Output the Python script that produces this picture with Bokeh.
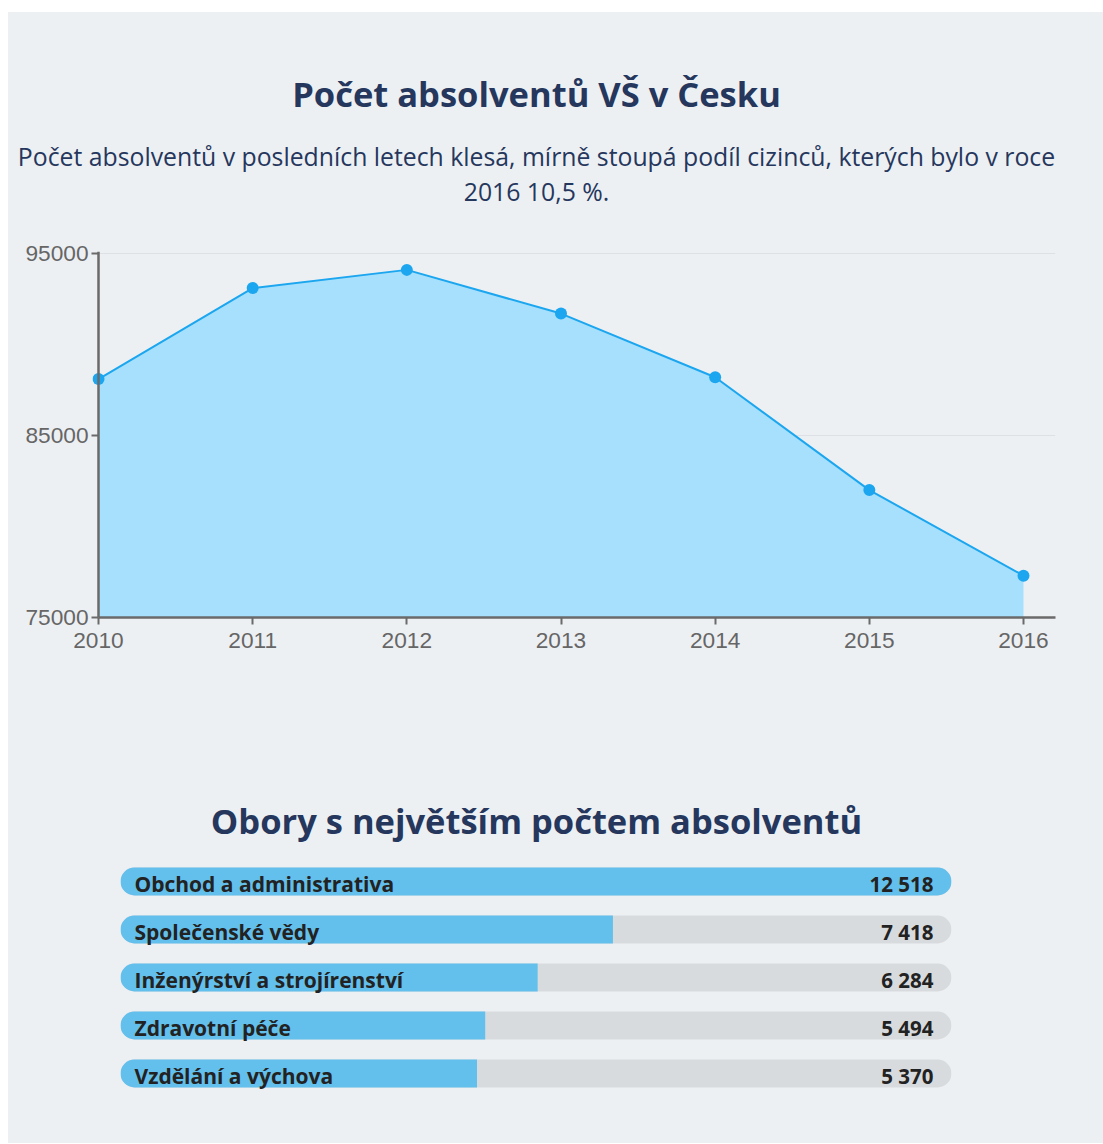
from bokeh.plotting import figure
from bokeh.models import Range1d, FixedTicker, NumeralTickFormatter, Label, ColumnDataSource, FactorRange, Spacer, Span
from bokeh.layouts import column, row
from bokeh.embed import file_html
from bokeh.resources import INLINE
from bokeh.core.properties import value

# ---------------- data ----------------
years = [2010, 2011, 2012, 2013, 2014, 2015, 2016]
graduates = [88100, 93100, 94100, 91700, 88200, 82000, 77300]
y_ticks = [75000, 85000, 95000]

fields = ["Obchod a administrativa", "Společenské vědy", "Inženýrství a strojírenství",
          "Zdravotní péče", "Vzdělání a výchova"]
field_counts = [12518, 7418, 6284, 5494, 5370]
field_labels = ["12 518", "7 418", "6 284", "5 494", "5 370"]

title1 = "Počet absolventů VŠ v Česku"
subtitle_lines = ["Počet absolventů v posledních letech klesá, mírně stoupá podíl cizinců, kterých bylo v roce",
                  "2016 10,5 %."]
title2 = "Obory s největším počtem absolventů"

# ---------------- style ----------------
BG = "#edf0f3"
NAVY = "#26375d"
AREA = "#a6e0fc"
LINE = "#1ca6ef"
BAR = "#63bfeb"
TRACK = "#d8dbde"
AXIS = "#6a6a6a"
FONT = "Open Sans"
W = 1095


def text_fig(h):
    f = figure(width=W, height=h, x_range=Range1d(0, W), y_range=Range1d(h, 0),
               output_backend="svg", toolbar_location=None, min_border=0,
               x_axis_location=None, y_axis_location=None, frame_align=False)
    f.grid.visible = False
    f.outline_line_color = None
    f.background_fill_color = None
    f.border_fill_color = BG
    return f


# ---------------- header 1 ----------------
h1 = text_fig(218)
h1.add_layout(Label(x=528, y=81, text=title1, text_align="center", text_baseline="middle",
                    text_font=FONT, text_font_style="bold", text_font_size="34.5px",
                    text_color=NAVY))
h1.add_layout(Label(x=528, y=143, text=subtitle_lines[0], text_align="center", text_baseline="middle",
                    text_font=FONT, text_font_size="24.8px", text_color=NAVY))
h1.add_layout(Label(x=528, y=178, text=subtitle_lines[1], text_align="center", text_baseline="middle",
                    text_font=FONT, text_font_size="24.8px", text_color=NAVY))

# ---------------- line chart ----------------
px_per_year = (1023 - 98) / 6.0
lead_px = 6
x_start = years[0] - lead_px / px_per_year
x_end = years[0] + (1055 - 98) / px_per_year
top_px = 2
y_per_px = (y_ticks[-1] - y_ticks[0]) / 364.0
y_end = y_ticks[-1] + top_px * y_per_px

p = figure(width=W, height=470, x_range=Range1d(x_start, x_end), y_range=Range1d(y_ticks[0], y_end),
           output_backend="svg", toolbar_location=None, frame_align=False,
           min_border_left=90 - lead_px, min_border_right=48, min_border_top=23 - top_px, min_border_bottom=83)
p.background_fill_color = None
p.border_fill_color = BG
p.outline_line_color = None

p.ygrid.ticker = FixedTicker(ticks=y_ticks)
p.ygrid.grid_line_color = "#dde1e5"
p.ygrid.grid_line_width = 1
p.ygrid.bounds = (years[0], x_end)
p.xgrid.visible = False

p.varea(x=years, y1=y_ticks[0], y2=graduates, fill_color=AREA)
p.line(x=years, y=graduates, line_color=LINE, line_width=2)
p.add_layout(Span(location=years[0], dimension="height", line_color=AXIS, line_width=2.5))
p.scatter(x=years, y=graduates, size=12, fill_color=LINE, line_color=None)

p.xaxis.ticker = FixedTicker(ticks=years)
p.xaxis.bounds = (years[0], x_end)
p.yaxis.ticker = FixedTicker(ticks=y_ticks)
p.yaxis.formatter = NumeralTickFormatter(format="0")
for ax in (p.xaxis, p.yaxis):
    ax.axis_line_color = AXIS
    ax.axis_line_width = 2.5
    ax.major_tick_line_color = AXIS
    ax.major_tick_line_width = 2
    ax.major_tick_out = 7
    ax.major_tick_in = 0
    ax.minor_tick_line_color = None
    ax.major_label_text_font = "Liberation Sans"
    ax.major_label_text_font_size = "22.7px"
    ax.major_label_text_color = "#666666"
p.yaxis.axis_line_color = None
p.yaxis.major_tick_out = 1
p.yaxis.major_tick_in = lead_px
p.xaxis.major_label_standoff = 8
p.yaxis.major_label_standoff = 3

# ---------------- header 2 ----------------
h2 = text_fig(157)
h2.add_layout(Label(x=528, y=120, text=title2, text_align="center", text_baseline="middle",
                    text_font=FONT, text_font_style="bold", text_font_size="34.5px",
                    text_color=NAVY))

# ---------------- bar chart ----------------
max_count = max(field_counts)
src = ColumnDataSource(dict(field=fields, count=field_counts, label=field_labels,
                            total=[max_count] * len(fields)))

b = figure(width=W, height=286, x_range=Range1d(0, max_count), y_range=FactorRange(factors=list(reversed(fields))),
           output_backend="svg", toolbar_location=None, frame_align=False,
           min_border_left=112, min_border_right=152, min_border_top=0, min_border_bottom=46,
           x_axis_location=None, y_axis_location=None)
b.background_fill_color = None
b.border_fill_color = BG
b.outline_line_color = None
b.grid.visible = False

b.hbar(y="field", left=0, right="total", height=0.58, source=src,
       fill_color=TRACK, line_color=None, border_radius=14)
for f, c in zip(fields, field_counts):
    r = 14 if c == max_count else 0
    b.hbar(y=[f], left=[0], right=[c], height=0.58, fill_color=BAR, line_color=None,
           border_radius=(14, r, r, 14))

b.text(x=0, y="field", text="field", source=src, x_offset=14, y_offset=2,
       text_align="left", text_baseline="middle", text_font=value(FONT), text_font_style="bold",
       text_font_size="21px", text_color="#222222")
b.text(x="total", y="field", text="label", source=src, x_offset=-18, y_offset=2,
       text_align="right", text_baseline="middle", text_font=value(FONT), text_font_style="bold",
       text_font_size="20.5px", text_color="#222222")

panel = column(h1, p, h2, b, spacing=0, styles={"background-color": BG})
layout = row(Spacer(width=8, height=10),
             column(Spacer(width=W, height=12), panel, spacing=0),
             spacing=0)

open("out.html", "w").write(file_html(layout, INLINE))
